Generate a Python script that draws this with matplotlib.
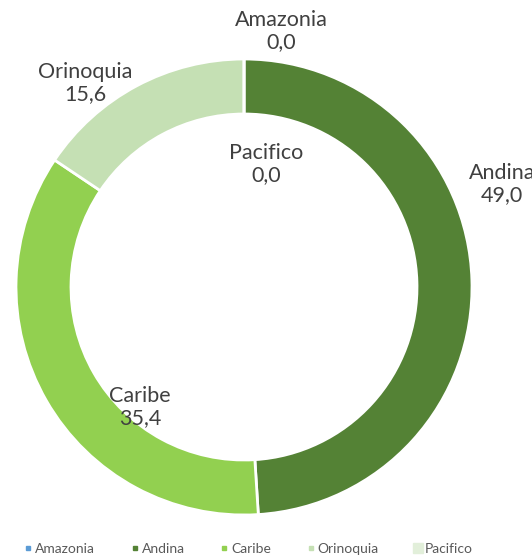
import matplotlib
matplotlib.use('Agg')
import matplotlib.pyplot as plt
from matplotlib.lines import Line2D

REGIONS = ['Amazonia', 'Andina', 'Caribe', 'Orinoquia', 'Pacifico']
SHARES = [0.0, 49.0, 35.4, 15.6, 0.0]
COLORS = ['#5B9BD5', '#548235', '#92D050', '#C5E0B4', '#E2EFDA']

# label anchor (pixel x, pixel y from top) for each region
LABEL_POS = {'Amazonia': (281, 31), 'Andina': (502, 184), 'Caribe': (140, 407),
             'Orinoquia': (85, 83), 'Pacifico': (266, 164)}

W, H = 532, 558
CX, CY, R = 244, 287, 228
RING = 55
TXT = '#404040'

plt.rcParams['font.family'] = ['Lato', 'DejaVu Sans']

fig = plt.figure(figsize=(W / 100, H / 100), dpi=100, facecolor='white')
ax = fig.add_axes([0, 0, 1, 1])

ax.pie(SHARES, colors=COLORS, startangle=90, counterclock=False,
       center=(CX, H - CY), radius=R, frame=True,
       wedgeprops=dict(width=RING, edgecolor='white', linewidth=2))
ax.set_xlim(0, W); ax.set_ylim(0, H)
ax.axis('off')

for name, val in zip(REGIONS, SHARES):
    x, y = LABEL_POS[name]
    ax.text(x, H - y, f'{name}\n{val:.1f}'.replace('.', ','), ha='center', va='center',
            fontsize=15.5, color=TXT, linespacing=1.15)

handles = []
for name, c in zip(REGIONS, COLORS):
    ms = 7.5 if name == 'Pacifico' else 3.5
    handles.append(Line2D([], [], marker='s', ls='none', color=c, markersize=ms))
ax.legend(handles, REGIONS, loc='center', bbox_to_anchor=(0.466, 0.016),
          bbox_transform=fig.transFigure, ncol=5, frameon=False, fontsize=10,
          labelcolor='#595959', handletextpad=0.1, columnspacing=2.45,
          handlelength=0.8, borderpad=0)

fig.savefig('out.png', dpi=100, facecolor='white')
